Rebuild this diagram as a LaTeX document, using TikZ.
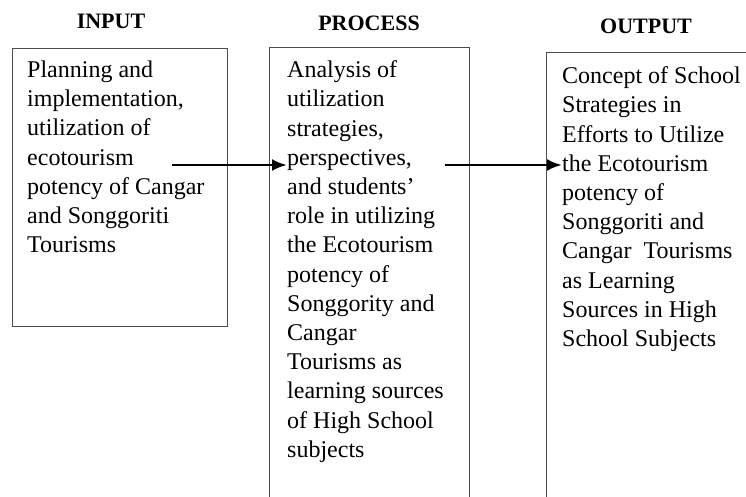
\documentclass[tikz,border=0pt]{standalone}
\usepackage{fontspec}
\setmainfont{Liberation Serif}
\usepackage{tikz}
\usetikzlibrary{positioning}
\usetikzlibrary{arrows.meta}
\definecolor{boxColor}{rgb}{0.3,0.3,0.3}

\begin{document}
\begin{tikzpicture}[x=1pt,y=-1pt]

          \tikzstyle{titleNode} = [font=\fontsize{22}{26}\selectfont\bfseries, inner sep=0pt];
          \tikzstyle{boxNode} = [draw=boxColor, line width=1pt, anchor=north west, inner sep=0pt];
          \tikzstyle{textNode} = [font=\fontsize{24}{29.2}\selectfont, align=left, anchor=north west, inner sep=0pt];
          \tikzstyle{arrowEdge} = [line width=2.8pt, -{Latex[length=15pt,width=12pt]}];

          \useasboundingbox (0,0) rectangle (746,497);
          \clip (0,0) rectangle (746,497);

          \node[titleNode] (inTitle) at (111,21) {INPUT};
          \node[titleNode] (procTitle) at (369,23) {PROCESS};
          \node[titleNode] (outTitle) at (646,26) {OUTPUT};

          \node[boxNode, minimum width=215pt, minimum height=278pt] (inBox) at (12,48) {};
          \node[boxNode, minimum width=200pt, minimum height=480pt] (procBox) at (269,47) {};
          \node[boxNode, minimum width=230pt, minimum height=480pt] (outBox) at (546,52) {};

          \node[textNode] (inText) at (27,60.6) {Planning and\\implementation,\\utilization of\\ecotourism\\potency of Cangar\\and Songgoriti\\Tourisms};
          \node[textNode] (procText) at (287,60.6) {Analysis of\\utilization\\strategies,\\perspectives,\\and students'\\role in utilizing\\the Ecotourism\\potency of\\Songgority and\\Cangar\\Tourisms as\\learning sources\\of High School\\subjects};
          \node[textNode] (outText) at (562,66.6) {Concept of School\\Strategies in\\Efforts to Utilize\\the Ecotourism\\potency of\\Songgoriti and\\Cangar~~Tourisms\\as Learning\\Sources in High\\School Subjects};

          \coordinate (inStart) at (172,165);
          \coordinate (procStart) at (445,165);

          \draw[arrowEdge] (inStart) -- (inStart -| procText.west);
          \draw[arrowEdge] (procStart) -- (procStart -| outText.west);
        \end{tikzpicture}
\end{document}
